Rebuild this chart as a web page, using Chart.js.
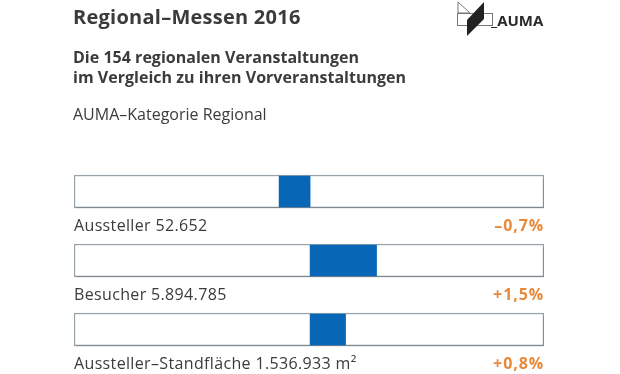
<!DOCTYPE html>
<html>
<head>
<meta charset="utf-8">
<script src="https://cdn.jsdelivr.net/npm/chart.js@4/dist/chart.umd.min.js"></script>
<style>
  html, body { margin:0; padding:0; background:#fff; }
  #wrap { position:relative; width:620px; height:374px; overflow:hidden; font-family:"Open Sans", "Noto Sans", sans-serif; color:#3b3b3b; }
  #c { position:absolute; left:0; top:0; }
  .t { position:absolute; left:73px; white-space:nowrap; }
  #title { top:5px; font-size:20px; line-height:24px; font-weight:700; letter-spacing:0.25px; }
  #sub { top:47px; font-size:16px; font-weight:700; line-height:20px; letter-spacing:0.02px; }
  #cat { top:104px; font-size:16px; line-height:20px; font-weight:400; letter-spacing:0px; }
  #logo { position:absolute; left:455px; top:0px; }
</style>
</head>
<body>
<div id="wrap">
  <canvas id="c" width="620" height="374"></canvas>
  <div class="t" id="title">Regional–Messen 2016</div>
  <div class="t" id="sub">Die 154 regionalen Veranstaltungen<br>im Vergleich zu ihren Vorveranstaltungen</div>
  <div class="t" id="cat">AUMA–Kategorie Regional</div>
  <svg id="logo" width="95" height="40" viewBox="0 0 95 40">
    <polygon points="3,2 15,13 3,13" fill="none" stroke="#777" stroke-width="1"/>
    <rect x="2.5" y="13.5" width="35" height="12" fill="none" stroke="#777" stroke-width="1"/>
    <polygon points="29,2 29,19 12,36 12,20" fill="#222"/>
    <text x="36" y="26" font-family="Open Sans, sans-serif" font-weight="700" font-size="15" fill="#2a2a2a">_AUMA</text>
  </svg>
</div>
<script>
const categories = ["Aussteller 52.652", "Besucher 5.894.785", "Aussteller–Standfläche 1.536.933 m²"];
const changes = [-0.7, 1.5, 0.8];
const changeLabels = ["–0,7%", "+1,5%", "+0,8%"];
const axisMin = -5.33;
const axisMax = 5.28;

const labelPlugin = {
  id: 'labels',
  beforeDatasetDraw(chart, args) {
    if (args.index === 0) {
      const ctx = chart.ctx;
      ctx.save();
      ctx.shadowColor = 'rgba(0,0,0,0.18)';
      ctx.shadowOffsetY = 2;
      ctx.shadowOffsetX = 1;
      ctx.shadowBlur = 2;
    }
  },
  afterDatasetDraw(chart, args) {
    if (args.index === 0) chart.ctx.restore();
  },
  afterDatasetsDraw(chart) {
    const ctx = chart.ctx;
    const meta = chart.getDatasetMeta(0);
    const area = chart.chartArea;
    ctx.save();
    ctx.textBaseline = 'middle';
    meta.data.forEach((el, i) => {
      const y = el.y + 35;
      ctx.font = '400 16px "Open Sans", "Noto Sans", sans-serif';
      ctx.letterSpacing = '0.35px';
      ctx.fillStyle = '#3b3b3b';
      ctx.textAlign = 'left';
      ctx.fillText(categories[i], area.left, y);
      ctx.font = '700 16px "Open Sans", "Noto Sans", sans-serif';
      ctx.letterSpacing = '0.9px';
      ctx.fillStyle = '#e8893a';
      ctx.textAlign = 'right';
      ctx.fillText(changeLabels[i], area.right, y);
    });
    ctx.restore();
  }
};

new Chart(document.getElementById('c'), {
  type: 'bar',
  data: {
    labels: categories,
    datasets: [
      {
        data: categories.map(() => [axisMin, axisMax]),
        backgroundColor: '#ffffff',
        borderColor: '#98a3aa',
        borderWidth: 1.5,
        borderSkipped: false,
        barThickness: 33,
        order: 2
      },
      {
        data: changes,
        backgroundColor: '#0767b6',
        borderWidth: 0,
        barThickness: 31,
        order: 1
      }
    ]
  },
  options: {
    indexAxis: 'y',
    responsive: false,
    animation: false,
    layout: { padding: { left: 74, right: 76, top: 157, bottom: 10 } },
    datasets: { bar: { grouped: false } },
    scales: {
      x: { min: axisMin, max: axisMax, display: false },
      y: { display: false }
    },
    plugins: { legend: { display: false }, tooltip: { enabled: false }, title: { display: false } }
  },
  plugins: [labelPlugin]
});
</script>
</body>
</html>
